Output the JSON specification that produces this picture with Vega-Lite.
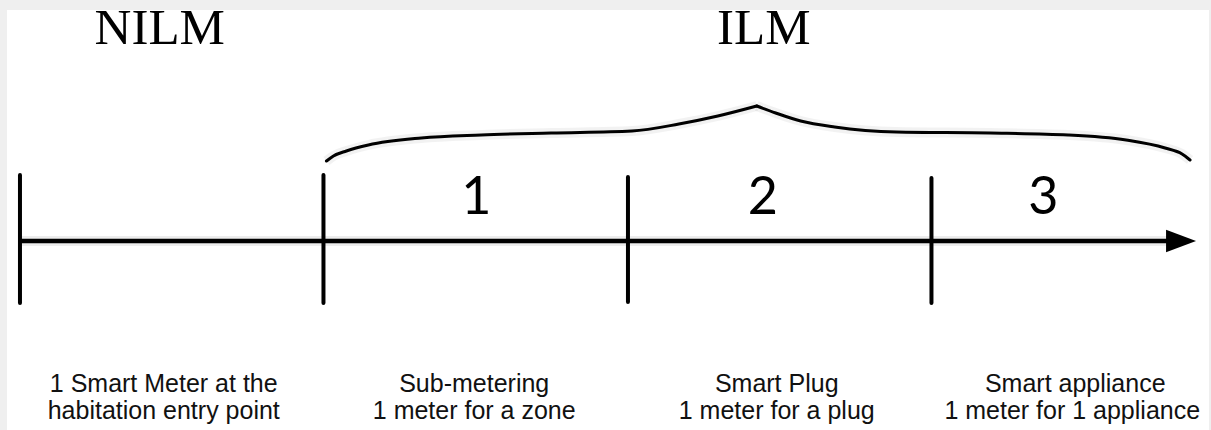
{
  "$schema": "https://vega.github.io/schema/vega-lite/v6.json",
  "width": 1211,
  "height": 430,
  "autosize": {"type": "fit", "contains": "padding"},
  "padding": 0,
  "background": "#efefef",
  "config": {"view": {"stroke": null}},
  "datasets": {
    "panel": [{"x": 5, "x2": 1209, "y": 10, "y2": 430}],
    "axis": [{"x": 18, "y": 241, "s": "main"}, {"x": 1172, "y": 241, "s": "main"}],
    "ticks": [
      {"x": 18, "y": 175, "y2": 303},
      {"x": 322, "y": 175, "y2": 303},
      {"x": 627, "y": 177, "y2": 302},
      {"x": 931, "y": 178, "y2": 303}
    ],
    "arrow": [{"x": 1181, "y": 241}],
    "brace": [
      {"x": 325, "y": 161, "p": "L"}, {"x": 332, "y": 156, "p": "L"}, {"x": 345, "y": 151, "p": "L"},
      {"x": 367, "y": 145, "p": "L"}, {"x": 420, "y": 138, "p": "L"}, {"x": 480, "y": 135, "p": "L"},
      {"x": 550, "y": 133, "p": "L"}, {"x": 631, "y": 131, "p": "L"}, {"x": 678, "y": 124, "p": "L"},
      {"x": 717, "y": 116, "p": "L"}, {"x": 756, "y": 106, "p": "L"},
      {"x": 756, "y": 106, "p": "R"}, {"x": 775, "y": 113, "p": "R"}, {"x": 800, "y": 121, "p": "R"},
      {"x": 834, "y": 127, "p": "R"}, {"x": 896, "y": 132, "p": "R"}, {"x": 990, "y": 133, "p": "R"},
      {"x": 1068, "y": 135, "p": "R"}, {"x": 1126, "y": 140, "p": "R"}, {"x": 1165, "y": 148, "p": "R"},
      {"x": 1182, "y": 154, "p": "R"}, {"x": 1190, "y": 160, "p": "R"}
    ],
    "titles": [{"x": 158, "y": 44, "t": "NILM"}, {"x": 763, "y": 44, "t": "ILM"}],
    "nums": [{"x": 475, "y": 214, "t": "1"}, {"x": 762, "y": 214, "t": "2"}, {"x": 1043, "y": 214, "t": "3"}],
    "labels": [
      {"x": 162, "y": 392, "t": "1 Smart Meter at the"},
      {"x": 162, "y": 419, "t": "habitation entry point"},
      {"x": 473, "y": 392, "t": "Sub-metering"},
      {"x": 473, "y": 419, "t": "1 meter for a zone"},
      {"x": 776, "y": 392, "t": "Smart Plug"},
      {"x": 776, "y": 419, "t": "1 meter for a plug"},
      {"x": 1075, "y": 392, "t": "Smart appliance"},
      {"x": 1072, "y": 419, "t": "1 meter for 1 appliance"}
    ]
  },
  "layer": [
    {
      "data": {"name": "panel"},
      "mark": {"type": "rect", "color": "white"},
      "encoding": {
        "x": {"field": "x", "type": "quantitative", "scale": {"domain": [0, 1211], "nice": false, "zero": false}, "axis": null},
        "x2": {"field": "x2"},
        "y": {"field": "y", "type": "quantitative", "scale": {"domain": [0, 430], "nice": false, "zero": false, "reverse": true}, "axis": null},
        "y2": {"field": "y2"}
      }
    },
    {
      "data": {"name": "axis"},
      "mark": {"type": "line", "color": "#000", "strokeWidth": 10, "opacity": 0.07, "dy": 7},
      "encoding": {
        "x": {"field": "x", "type": "quantitative"},
        "y": {"field": "y", "type": "quantitative"}
      }
    },
    {
      "data": {"name": "brace"},
      "mark": {"type": "line", "color": "#000", "strokeWidth": 10, "opacity": 0.05, "interpolate": "monotone", "dy": 8},
      "encoding": {
        "x": {"field": "x", "type": "quantitative"},
        "y": {"field": "y", "type": "quantitative"},
        "detail": {"field": "p"}
      }
    },
    {
      "data": {"name": "axis"},
      "mark": {"type": "line", "color": "#000", "strokeWidth": 4.5},
      "encoding": {
        "x": {"field": "x", "type": "quantitative"},
        "y": {"field": "y", "type": "quantitative"}
      }
    },
    {
      "data": {"name": "ticks"},
      "mark": {"type": "rule", "color": "#000", "strokeWidth": 4, "strokeCap": "round"},
      "encoding": {
        "x": {"field": "x", "type": "quantitative"},
        "y": {"field": "y", "type": "quantitative"},
        "y2": {"field": "y2"}
      }
    },
    {
      "data": {"name": "arrow"},
      "mark": {"type": "point", "shape": "M -1 -0.75 L 1 0 L -1 0.75 Z", "size": 900, "filled": true, "color": "#000", "opacity": 1, "strokeWidth": 0},
      "encoding": {
        "x": {"field": "x", "type": "quantitative"},
        "y": {"field": "y", "type": "quantitative"}
      }
    },
    {
      "data": {"name": "brace"},
      "mark": {"type": "line", "color": "#000", "strokeWidth": 3, "strokeCap": "round", "interpolate": "monotone"},
      "encoding": {
        "x": {"field": "x", "type": "quantitative"},
        "y": {"field": "y", "type": "quantitative"},
        "detail": {"field": "p"}
      }
    },
    {
      "data": {"name": "titles"},
      "mark": {"type": "text", "font": "Liberation Serif", "fontSize": 51, "color": "#000", "align": "center", "baseline": "alphabetic"},
      "encoding": {
        "x": {"field": "x", "type": "quantitative"},
        "y": {"field": "y", "type": "quantitative"},
        "text": {"field": "t"}
      }
    },
    {
      "data": {"name": "nums"},
      "mark": {"type": "text", "font": "Lato", "fontSize": 52, "color": "#000", "align": "center", "baseline": "alphabetic"},
      "encoding": {
        "x": {"field": "x", "type": "quantitative"},
        "y": {"field": "y", "type": "quantitative"},
        "text": {"field": "t"}
      }
    },
    {
      "data": {"name": "labels"},
      "mark": {"type": "text", "font": "Liberation Sans", "fontSize": 25, "color": "#111", "align": "center", "baseline": "alphabetic"},
      "encoding": {
        "x": {"field": "x", "type": "quantitative"},
        "y": {"field": "y", "type": "quantitative"},
        "text": {"field": "t"}
      }
    }
  ]
}
